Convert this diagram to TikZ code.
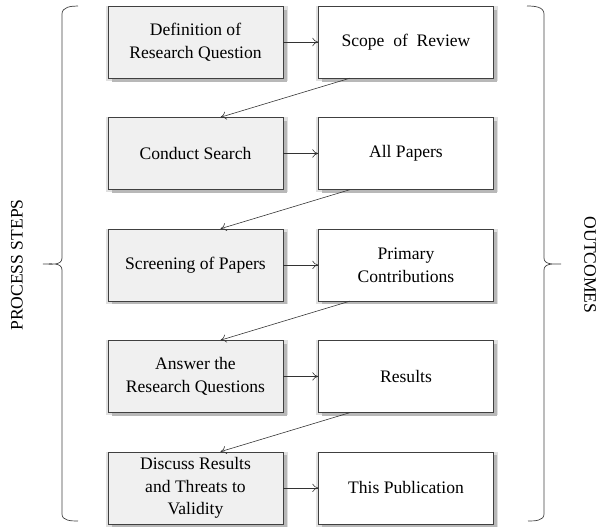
\documentclass[tikz,border=0pt]{standalone}
\usepackage{fontspec}
\setmainfont{Liberation Serif}
\usetikzlibrary{positioning,calc,arrows.meta,shadows}
\begin{document}
\begin{tikzpicture}[x=0.03cm,y=-0.03cm,
    stepbox/.style={draw=black!75,fill=gray!12,minimum width=5.25cm,minimum height=2.16cm,
        inner ysep=1pt,align=center,font=\fontsize{15}{19.5}\selectfont,
        general shadow={shadow xshift=1pt,shadow yshift=-1pt,shadow scale=1.04,fill=black!12},
        general shadow={shadow xshift=3pt,shadow yshift=-3pt,fill=black!28}},
    outbox/.style={stepbox,fill=white},
    flow/.style={-{To[length=5pt,width=7pt]},black!80,line width=0.5pt},
    bracket/.style={draw=black!75,line width=0.6pt}]
\useasboundingbox (0,0) rectangle (602,527);

% Process steps (left column)
\node[stepbox] (p1) at (195.5,42) {Definition of\\Research Question};
\node[stepbox, below=1.17cm of p1] (p2) {Conduct Search};
\node[stepbox, below=1.17cm of p2] (p3) {Screening of Papers};
\node[stepbox, below=1.17cm of p3] (p4) {Answer the\\Research Questions};
\node[stepbox, below=1.17cm of p4] (p5) {Discuss Results\\and Threats to\\Validity};

% Outcomes (right column)
\node[outbox, right=1.05cm of p1] (o1) {Scope\ \ of\ \ Review};
\node[outbox, right=1.05cm of p2] (o2) {All Papers};
\node[outbox, right=1.05cm of p3] (o3) {Primary\\Contributions};
\node[outbox, right=1.05cm of p4] (o4) {Results};
\node[outbox, right=1.05cm of p5] (o5) {This Publication};

% Step -> outcome
\foreach \i in {1,...,5}
    \draw[flow] (p\i) -- (o\i);
% Outcome -> next step
\foreach \i [evaluate=\i as \j using int(\i+1)] in {1,...,4}
    \draw[flow] ($(o\i.south west)!0.18!(o\i.south east)$) -- ($(p\j.north)+(25,0)$);

% Braces
\draw[bracket] (78,6) to[out=180,in=90] (62,14) -- (62,258)
    to[out=-90,in=0] (43,264) to[out=0,in=90] (62,270) -- (62,514)
    to[out=-90,in=180] (78,521);
\draw[bracket] (527,6) to[out=0,in=90] (544,14) -- (544,258)
    to[out=-90,in=180] (561,264) to[out=180,in=90] (544,270) -- (544,514)
    to[out=-90,in=0] (528,521);

% Side labels
\node[rotate=90,font=\fontsize{15}{18}\selectfont] (steps) at (17,265) {PROCESS STEPS};
\node[rotate=-90,font=\fontsize{15}{18}\selectfont] (outs) at (590,265) {OUTCOMES};
\end{tikzpicture}
\end{document}
